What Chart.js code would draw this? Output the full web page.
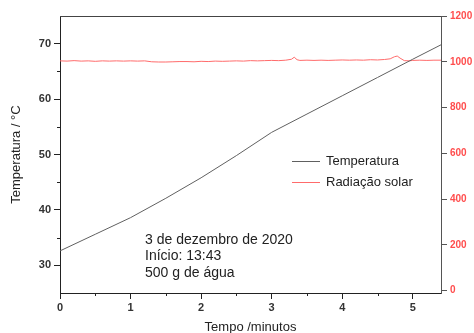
<!DOCTYPE html>
<html><head><meta charset="utf-8">
<script src="https://cdn.jsdelivr.net/npm/chart.js@4.4.0/dist/chart.umd.min.js"></script>
<style>html,body{margin:0;padding:0;background:#fff;overflow:hidden}#wrap{width:474px;height:333px;position:relative}</style>
</head><body><div id="wrap"><canvas id="c" width="474" height="333"></canvas></div>
<script>
const timeTemp = [0, 0.5, 1, 1.5, 2, 2.5, 3, 3.5, 4, 4.5, 5, 5.4];
const temperature = [32.6, 35.6, 38.6, 42.1, 45.8, 49.8, 54.0, 57.3, 60.6, 63.9, 67.2, 69.8];
const timeRad = [0,0.1,0.2,0.3,0.4,0.5,0.6,0.7,0.8,0.9,1.0,1.1,1.2,1.3,1.4,1.5,1.6,1.7,1.8,1.9,2.0,2.1,2.2,2.3,2.4,2.5,2.6,2.7,2.8,2.9,3.0,3.1,3.2,3.28,3.32,3.36,3.4,3.5,3.6,3.7,3.8,3.9,4.0,4.1,4.2,4.3,4.4,4.5,4.6,4.68,4.74,4.78,4.82,4.88,4.95,5.0,5.1,5.2,5.3,5.4];
const radiation = [1004,1003,1005,1003,1004,1002,1004,1003,1004,1003,1004,1003,1004,1000,999,999,1000,1001,1001,1000,1002,1001,1003,1002,1003,1004,1003,1005,1004,1005,1006,1005,1007,1011,1020,1009,1006,1007,1006,1007,1006,1007,1008,1007,1008,1007,1009,1008,1010,1013,1022,1025,1016,1005,1004,1006,1007,1006,1007,1007];
const xTicks = [0, 1, 2, 3, 4, 5];
const xMinor = [0.5, 1.5, 2.5, 3.5, 4.5];
const tempTicks = [30, 40, 50, 60, 70];
const tempMinor = [35, 45, 55, 65];
const radTicks = [0, 200, 400, 600, 800, 1000, 1200];
const seriesNames = ['Temperatura', 'Radiação solar'];
const axisTitles = ['Tempo /minutos', 'Temperatura / °C'];
const noteLines = ['3 de dezembro de 2020', 'Início: 13:43', '500 g de água'];

const FONT = 'Liberation Sans, Arial, sans-serif';
const tempColor = '#606060';
const radColor = '#ff6b6b';

const decor = {
  id: 'decor',
  afterDraw(chart) {
    const ctx = chart.ctx, a = chart.chartArea;
    const sx = chart.scales.x, sy = chart.scales.yT;
    ctx.save();
    ctx.lineWidth = 1;
    ctx.strokeStyle = '#444';
    ctx.beginPath(); ctx.moveTo(a.left, a.top + 0.5); ctx.lineTo(a.right, a.top + 0.5); ctx.stroke();
    ctx.strokeStyle = '#222';
    xMinor.forEach(v => {
      const px = Math.round(sx.getPixelForValue(v)) + 0.5;
      ctx.beginPath(); ctx.moveTo(px, a.bottom); ctx.lineTo(px, a.bottom + 3); ctx.stroke();
    });
    tempMinor.forEach(v => {
      const py = Math.round(sy.getPixelForValue(v)) + 0.5;
      ctx.beginPath(); ctx.moveTo(a.left, py); ctx.lineTo(a.left - 3, py); ctx.stroke();
    });
    ctx.font = '13px ' + FONT;
    ctx.textBaseline = 'middle';
    ctx.fillStyle = '#222';
    const lx = 292, ly = 161;
    [[tempColor, seriesNames[0]], [radColor, seriesNames[1]]].forEach((it, i) => {
      const y = Math.round(ly + i * 21) + 0.5;
      ctx.strokeStyle = it[0];
      ctx.beginPath(); ctx.moveTo(lx, y); ctx.lineTo(lx + 28, y); ctx.stroke();
      ctx.fillText(it[1], lx + 34, y);
    });
    ctx.font = '14px ' + FONT;
    noteLines.forEach((t, i) => ctx.fillText(t, 145, 240 + i * 16.6));
    ctx.restore();
  }
};

new Chart(document.getElementById('c'), {
  type: 'line',
  data: {
    datasets: [
      { label: seriesNames[0], data: timeTemp.map((t, i) => ({x: t, y: temperature[i]})), yAxisID: 'yT',
        borderColor: tempColor, borderWidth: 1, pointRadius: 0, tension: 0, fill: false },
      { label: seriesNames[1], data: timeRad.map((t, i) => ({x: t, y: radiation[i]})), yAxisID: 'yR',
        borderColor: radColor, borderWidth: 1, pointRadius: 0, tension: 0, fill: false }
    ]
  },
  options: {
    responsive: false, animation: false, devicePixelRatio: 1,
    layout: { padding: { top: 16, left: 0, right: 0, bottom: 0 } },
    plugins: { legend: { display: false }, tooltip: { enabled: false } },
    scales: {
      x: {
        type: 'linear', position: 'bottom', min: 0, max: 5.4,
        afterBuildTicks: s => { s.ticks = xTicks.map(v => ({value: v})); },
        afterFit: s => { s.height = 40; },
        grid: { drawOnChartArea: false, drawTicks: true, tickLength: 6, tickColor: '#222' },
        border: { color: '#222', width: 1 },
        ticks: { font: { family: FONT, size: 11, weight: 'bold' }, color: '#333', padding: 2, maxRotation: 0, autoSkip: false, callback: v => String(v) },
        title: { display: true, text: axisTitles[0], font: { family: FONT, size: 13 }, color: '#222', padding: { top: 0, bottom: -2 } }
      },
      yT: {
        type: 'linear', position: 'left', min: 25, max: 75,
        afterBuildTicks: s => { s.ticks = tempTicks.map(v => ({value: v})); },
        afterFit: s => { s.width = 60; },
        grid: { drawOnChartArea: false, drawTicks: true, tickLength: 6, tickColor: '#222' },
        border: { color: '#222', width: 1 },
        ticks: { font: { family: FONT, size: 11, weight: 'bold' }, color: '#333', padding: 3, autoSkip: false, callback: v => String(v) },
        title: { display: true, text: axisTitles[1], font: { family: FONT, size: 13 }, color: '#222', padding: { top: 9, bottom: 0 } }
      },
      yR: {
        type: 'linear', position: 'right', min: -10, max: 1200,
        afterBuildTicks: s => { s.ticks = radTicks.map(v => ({value: v})); },
        afterFit: s => { s.width = 33; },
        grid: { drawOnChartArea: false, drawTicks: true, tickLength: 6, tickColor: '#555' },
        border: { color: '#555', width: 1 },
        ticks: { font: { family: FONT, size: 10, weight: 'bold' }, color: '#ff4d4d', padding: 3, autoSkip: false, callback: v => String(v) }
      }
    }
  },
  plugins: [decor]
});
</script></body></html>
